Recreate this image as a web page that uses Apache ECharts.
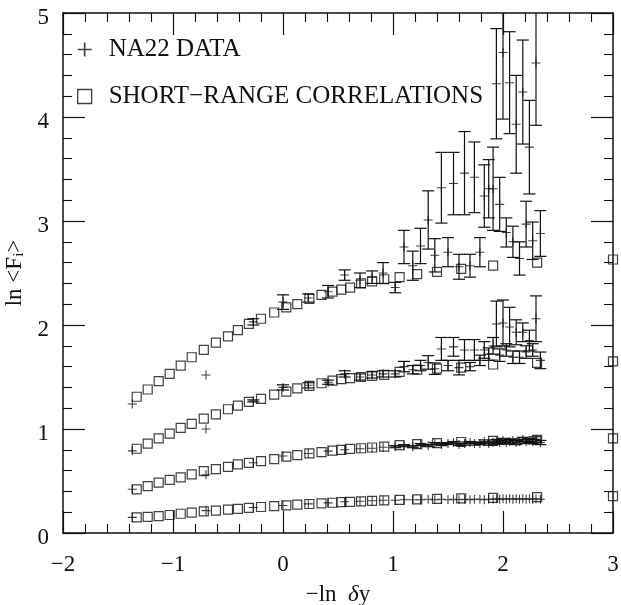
<!DOCTYPE html>
<html>
<head>
<meta charset="utf-8">
<script src="https://cdn.jsdelivr.net/npm/echarts@6/dist/echarts.min.js"></script>
<style>
  html, body { margin: 0; padding: 0; background: #fff; }
  #chart { width: 621px; height: 605px; }
</style>
</head>
<body>
<div id="chart"></div>
<script>
// short-range correlation curves (squares), same x for all moments
const srcX  = [-1.33,-1.23,-1.13,-1.03,-0.93,-0.83,-0.72,-0.61,-0.50,-0.41,-0.31,-0.20,-0.08,0.03,0.13,0.24,0.35,0.45,0.53,0.61,0.71,0.81,0.92,1.06,1.22,1.40,1.62,1.91,2.31,3.00];
const srcF2 = [0.150,0.156,0.163,0.173,0.185,0.195,0.207,0.216,0.225,0.232,0.241,0.250,0.258,0.266,0.273,0.279,0.285,0.291,0.296,0.300,0.305,0.309,0.313,0.318,0.323,0.328,0.333,0.338,0.345,0.355];
const srcF3 = [0.42,0.45,0.485,0.51,0.535,0.563,0.595,0.614,0.636,0.659,0.675,0.691,0.710,0.735,0.749,0.765,0.777,0.792,0.800,0.808,0.815,0.822,0.830,0.845,0.855,0.865,0.875,0.885,0.895,0.91];
const srcF4 = [0.81,0.86,0.91,0.955,1.01,1.05,1.10,1.14,1.19,1.225,1.26,1.29,1.33,1.36,1.39,1.415,1.44,1.465,1.48,1.49,1.50,1.51,1.52,1.55,1.57,1.58,1.59,1.62,1.635,1.65];
const srcF5 = [1.31,1.38,1.46,1.53,1.61,1.69,1.76,1.83,1.89,1.95,2.01,2.06,2.12,2.17,2.20,2.25,2.29,2.32,2.34,2.36,2.40,2.42,2.44,2.46,2.49,2.51,2.54,2.57,2.60,2.63];

// NA22 data (crosses) with errors
const naX  = [-1.37,-0.70,-0.27,0.00,0.23,0.41,0.56,0.70,0.81,0.91,1.02,1.10,1.18,1.25,1.32,1.38,1.44,1.50,1.55,1.60,1.65,1.70,1.74,1.79,1.83,1.87,1.91,1.94,1.97,2.00,2.03,2.06,2.09,2.12,2.15,2.18,2.21,2.24,2.27,2.30,2.34];
const naF2 = [0.15,0.215,0.245,0.265,0.28,0.29,0.30,0.305,0.31,0.315,0.315,0.32,0.32,0.32,0.325,0.32,0.325,0.32,0.325,0.32,0.325,0.32,0.325,0.325,0.32,0.325,0.325,0.33,0.325,0.33,0.325,0.33,0.325,0.33,0.325,0.33,0.325,0.33,0.325,0.33,0.325];
const errF2 = [0,0,0,0,0,0,0,0,0,0,0,0,0,0,0,0,0,0,0,0,0,0,0,0,0,0,0,0,0,0,0,0,0,0,0,0,0,0,0,0,0];
const naF3 = [0.42,0.56,0.675,0.74,0.765,0.787,0.80,0.81,0.815,0.825,0.83,0.84,0.83,0.85,0.84,0.86,0.85,0.86,0.87,0.85,0.86,0.87,0.86,0.86,0.88,0.86,0.87,0.88,0.87,0.89,0.87,0.88,0.89,0.87,0.88,0.90,0.88,0.89,0.88,0.90,0.87];
const errF3 = [0,0,0,0,0,0,0,0,0,0,0.01,0.01,0.01,0.01,0.01,0.01,0.01,0.01,0.01,0.01,0.015,0.01,0.015,0.01,0.015,0.015,0.015,0.02,0.015,0.02,0.015,0.02,0.015,0.02,0.015,0.02,0.02,0.02,0.02,0.025,0.02];
const naF4 = [0.79,1.00,1.27,1.40,1.42,1.45,1.53,1.50,1.52,1.53,1.53,1.60,1.57,1.61,1.64,1.58,1.77,1.61,1.79,1.59,1.76,1.60,1.76,1.66,1.76,1.72,1.80,2.01,1.71,2.02,1.76,1.98,1.69,1.93,1.69,1.93,1.74,1.85,1.76,2.06,1.66];
const errF4 = [0,0,0.01,0.025,0.025,0.02,0.03,0.03,0.03,0.03,0.03,0.05,0.04,0.05,0.065,0.055,0.11,0.05,0.09,0.07,0.10,0.04,0.10,0.05,0.08,0.06,0.08,0.22,0.06,0.22,0.06,0.19,0.06,0.12,0.06,0.09,0.06,0.10,0.06,0.22,0.08];
const naF5 = [1.24,1.52,2.03,2.22,2.26,2.32,2.48,2.43,2.46,2.50,2.36,2.75,2.57,2.76,3.01,2.67,3.32,2.70,3.36,2.56,3.46,2.57,3.42,2.70,3.24,3.31,3.31,4.32,3.16,4.62,2.89,4.33,2.80,3.93,2.64,4.24,2.97,3.71,2.81,4.52,2.88];
const errF5 = [0,0,0.03,0.07,0.04,0.06,0.05,0.07,0.06,0.10,0.05,0.16,0.14,0.17,0.28,0.16,0.34,0.14,0.30,0.12,0.40,0.11,0.34,0.14,0.30,0.28,0.40,0.53,0.26,0.64,0.14,0.49,0.15,0.47,0.16,0.50,0.22,0.45,0.18,0.60,0.22];

const xTicks = [-2, -1, 0, 1, 2, 3];
const yTicks = [0, 1, 2, 3, 4, 5];

const serif = 'Liberation Serif';
const ink = '#111';

// build scatter / errorbar data from the arrays
const srcRows = [srcF2, srcF3, srcF4, srcF5];
const naRows = [[naF2, errF2], [naF3, errF3], [naF4, errF4], [naF5, errF5]];

const squareData = [];
srcRows.forEach(row => row.forEach((v, i) => squareData.push([srcX[i], v])));

const crossData = [];
const errData = [];
naRows.forEach(([vals, errs]) => {
  vals.forEach((v, i) => {
    crossData.push([naX[i], v]);
    if (errs[i] > 0) errData.push([naX[i], v - errs[i], v + errs[i]]);
  });
});

const plusPath = 'path://M4.4,0h1.2v4.4h4.4v1.2h-4.4v4.4h-1.2v-4.4h-4.4v-1.2h4.4z';

function renderErr(params, api) {
  const x = api.value(0), lo = api.value(1), hi = api.value(2);
  const top = Math.min(hi, yTicks[yTicks.length - 1]);
  const pt = api.coord([x, top]);
  const pb = api.coord([x, lo]);
  const w = 6;
  const st = { stroke: ink, lineWidth: 1.2 };
  const kids = [{ type: 'line', shape: { x1: pt[0], y1: pt[1], x2: pb[0], y2: pb[1] }, style: st }];
  if (hi <= top) kids.push({ type: 'line', shape: { x1: pt[0] - w, y1: pt[1], x2: pt[0] + w, y2: pt[1] }, style: st });
  kids.push({ type: 'line', shape: { x1: pb[0] - w, y1: pb[1], x2: pb[0] + w, y2: pb[1] }, style: st });
  return { type: 'group', children: kids };
}

const minus = v => String(v).replace('-', '\u2212');

function xAxisCfg(pos, labels) {
  return {
    type: 'value', position: pos, min: xTicks[0], max: xTicks[xTicks.length - 1], interval: 1,
    axisLine: { show: true, onZero: false, lineStyle: { color: ink, width: 1.5 } },
    axisTick: { show: true, inside: true, length: 22, lineStyle: { color: ink, width: 1.2 } },
    minorTick: { show: true, splitNumber: 5, length: 9, lineStyle: { color: ink, width: 1.1 } },
    splitLine: { show: false },
    axisLabel: { show: labels, margin: 20, fontFamily: serif, fontSize: 23, color: ink, formatter: minus },
    name: labels ? '{a|\u2212ln  }{d|\u03b4}{a|y}' : '',
    nameLocation: 'middle', nameGap: 50,
    nameTextStyle: { rich: { a: { fontFamily: serif, fontSize: 23, color: ink }, d: { fontFamily: serif, fontSize: 23, fontStyle: 'italic', color: ink } } }
  };
}

function yAxisCfg(pos, labels) {
  return {
    type: 'value', position: pos, min: yTicks[0], max: yTicks[yTicks.length - 1], interval: 1,
    axisLine: { show: true, onZero: false, lineStyle: { color: ink, width: 1.5 } },
    axisTick: { show: true, inside: true, length: 22, lineStyle: { color: ink, width: 1.2 } },
    minorTick: { show: true, splitNumber: 5, length: 9, lineStyle: { color: ink, width: 1.1 } },
    splitLine: { show: false },
    axisLabel: {
      show: labels, margin: 14, color: ink,
      formatter: v => '{v|' + v + '}',
      rich: { v: { fontFamily: serif, fontSize: 23, color: ink, padding: [9, 0, 0, 0] } }
    },
    name: labels ? '{a|ln <F}{s|i}{a|>}' : '',
    nameLocation: 'middle', nameGap: 35,
    nameTextStyle: { rich: { a: { fontFamily: serif, fontSize: 23, color: ink }, s: { fontFamily: serif, fontSize: 15, color: ink, verticalAlign: 'bottom', padding: [8, 0, 0, 0] } } }
  };
}

const chart = echarts.init(document.getElementById('chart'), null, { renderer: 'canvas' });

chart.setOption({
  animation: false,
  backgroundColor: '#fff',
  grid: { left: 63, right: 8, top: 13, bottom: 72, containLabel: false, outerBoundsMode: 'none' },
  xAxis: [xAxisCfg('bottom', true), xAxisCfg('top', false)],
  yAxis: [yAxisCfg('left', true), yAxisCfg('right', false)],
  legend: {
    orient: 'vertical', left: 72, top: 32, itemGap: 22,
    itemWidth: 14, itemHeight: 14,
    textStyle: { fontFamily: serif, fontSize: 25, color: ink, padding: [0, 0, 0, 12] },
    data: [
      { name: 'NA22 DATA', icon: plusPath, itemStyle: { color: ink } },
      { name: 'SHORT\u2212RANGE CORRELATIONS', icon: 'rect', itemStyle: { color: 'rgba(0,0,0,0)', borderColor: ink, borderWidth: 1.3 } }
    ]
  },
  series: [
    {
      name: 'SHORT\u2212RANGE CORRELATIONS', type: 'scatter', clip: false,
      symbol: 'rect', symbolSize: 9,
      itemStyle: { color: 'rgba(0,0,0,0)', borderColor: ink, borderWidth: 1.2 },
      data: squareData, z: 2
    },
    {
      name: 'errors', type: 'custom', renderItem: renderErr,
      data: errData, z: 3, silent: true
    },
    {
      name: 'NA22 DATA', type: 'scatter', clip: false,
      symbol: plusPath, symbolSize: 9,
      itemStyle: { color: ink },
      data: crossData, z: 4
    }
  ]
});
</script>
</body>
</html>
